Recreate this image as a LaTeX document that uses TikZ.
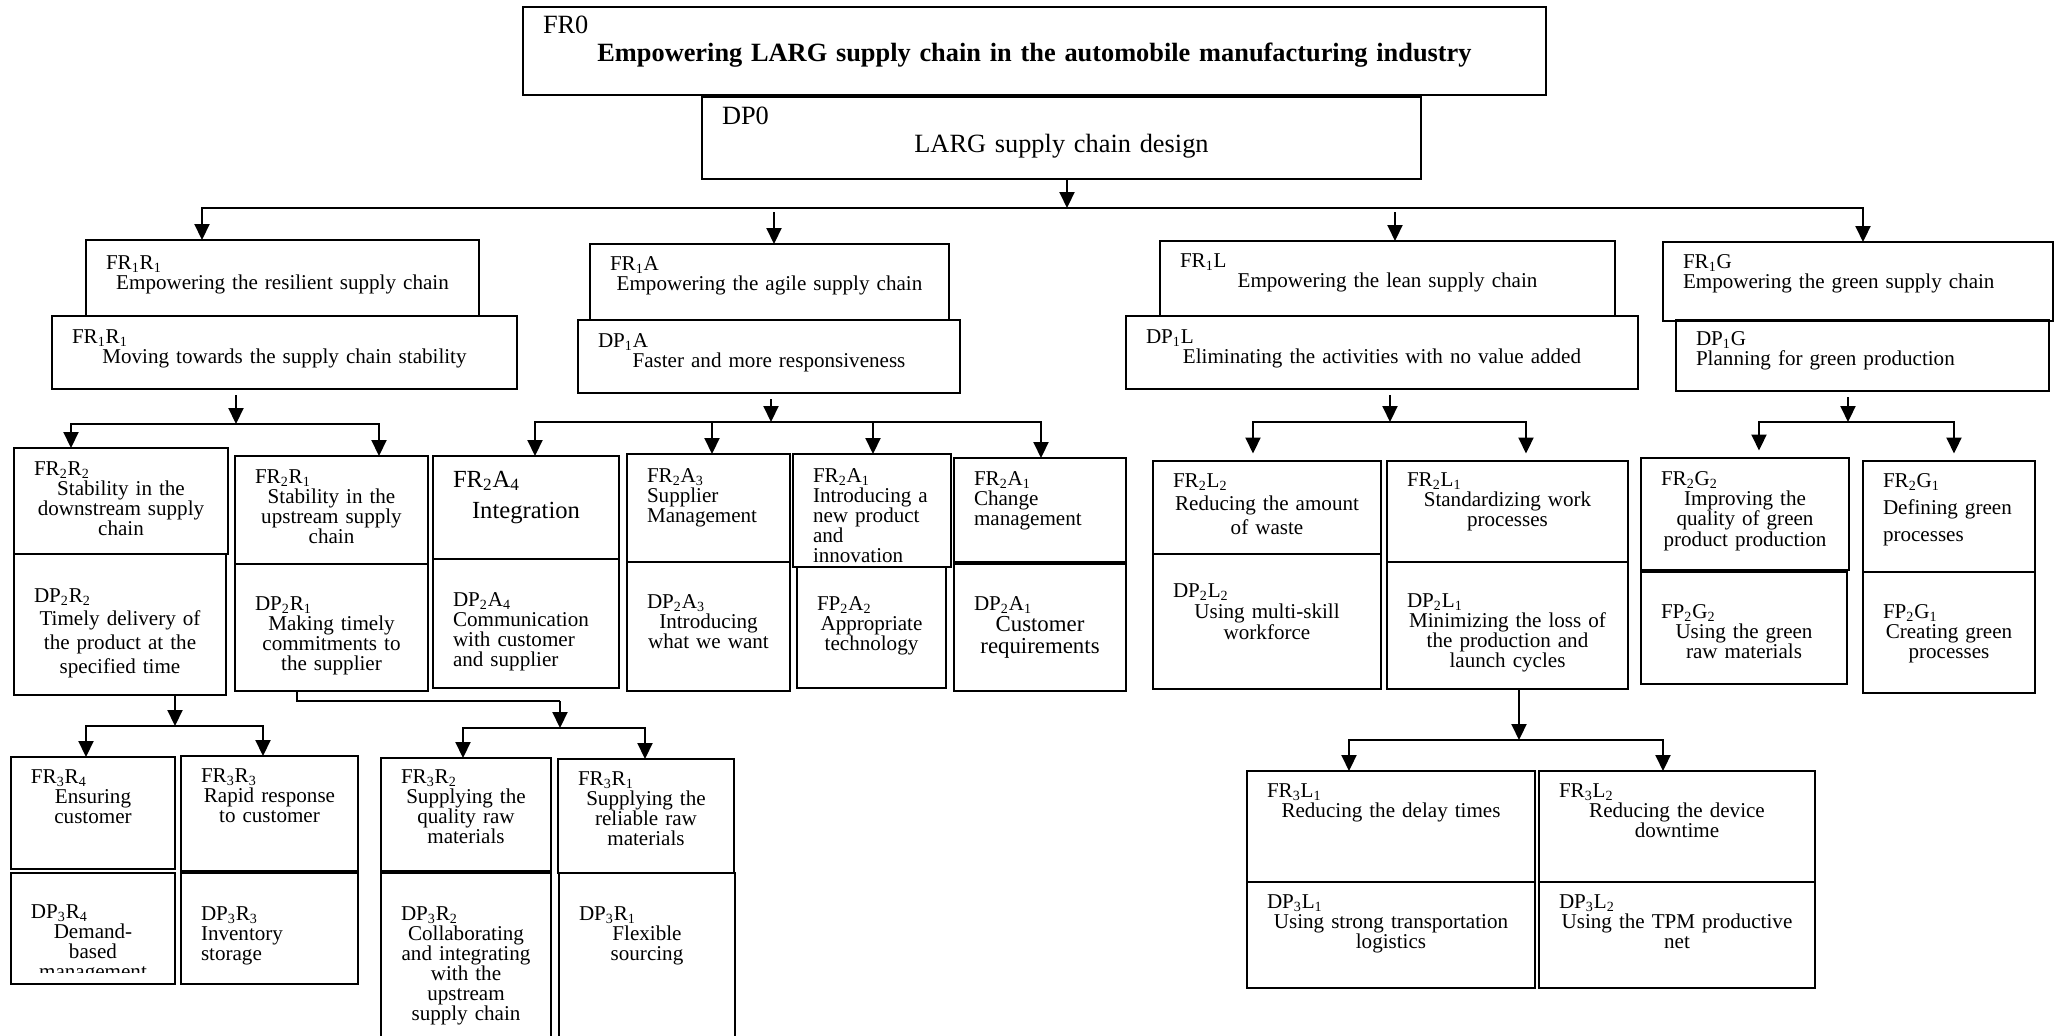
\documentclass[tikz,border=0pt]{standalone}
\usepackage{fontspec}
\setmainfont{Liberation Serif}
\usetikzlibrary{arrows.meta}
\setlength{\parindent}{0pt}
\newdimen\unitpx \unitpx=0.02cm
\newcommand{\ix}[1]{\textsubscript{#1}}

\begin{document}
\begin{tikzpicture}[x=0.02cm, y=-0.02cm, line width=1.2pt, >={Triangle[length=0.32cm,width=0.3cm]}]
    \tikzset{cell/.style n args={3}{draw, rectangle, line width=0.8pt, anchor=north west,
        outer sep=0pt, inner ysep=0pt, inner xsep=20*\unitpx,
        text width=(#1-40)*\unitpx, text height=#3*\unitpx, text depth=(#2-#3)*\unitpx,
        font=\fontsize{12}{11.4}\selectfont}}
    \tikzstyle{gap}=[shorten <=0.12cm]
    \tikzstyle{short}=[shorten >=0.15cm]

    \useasboundingbox (0,0) rectangle (2056,1035);
    \clip (0,0) rectangle (2056,1035);

    % level 0
    \node[cell={1023}{88}{26}, font=\fontsize{15}{16}\selectfont] (fr0) at (523,7)
        {FR0\par{\centering\bfseries Empowering LARG supply chain in the automobile manufacturing industry\par}};
    \node[cell={719}{82}{27}, font=\fontsize{15}{16}\selectfont] (dp0) at (702,97)
        {DP0\par{\centering LARG supply chain design\par}};

    % level 1
    \node[cell={393}{76}{29}] (fr1r) at (86,240) {FR\ix1R\ix1\par{\centering Empowering the resilient supply chain\par}};
    \node[cell={465}{73}{27}] (dp1r) at (52,316) {FR\ix1R\ix1\par{\centering Moving towards the supply chain stability\par}};
    \node[cell={359}{76}{26}] (fr1a) at (590,244) {FR\ix1A\par{\centering Empowering the agile supply chain\par}};
    \node[cell={382}{73}{27}] (dp1a) at (578,320) {DP\ix1A\par{\centering Faster and more responsiveness\par}};
    \node[cell={455}{75}{26}] (fr1l) at (1160,241) {FR\ix1L\par{\centering Empowering the lean supply chain\par}};
    \node[cell={512}{73}{27}] (dp1l) at (1126,316) {DP\ix1L\par{\centering Eliminating the activities with no value added\par}};
    \node[cell={390}{79}{26}] (fr1g) at (1663,242) {\raggedright FR\ix1G\\Empowering the green supply chain};
    \node[cell={373}{71}{25}] (dp1g) at (1676,320) {\raggedright DP\ix1G\\Planning for green production};

    % level 2
    \node[cell={214}{106}{27}] (fr2r2) at (14,448) {FR\ix2R\ix2\par{\centering Stability in the\\downstream supply\\chain\par}};
    \node[cell={212}{141}{48}, font=\fontsize{12}{13.6}\selectfont] (dp2r2) at (14,554)
        {DP\ix2R\ix2\par{\centering Timely delivery of\\the product at the\\specified time\par}};
    \node[cell={193}{108}{27}] (fr2r1) at (235,456) {FR\ix2R\ix1\par{\centering Stability in the\\upstream supply\\chain\par}};
    \node[cell={193}{127}{46}] (dp2r1) at (235,564) {DP\ix2R\ix1\par{\centering Making timely\\commitments to\\the supplier\par}};
    \node[cell={186}{103}{31}, font=\fontsize{14}{18.2}\selectfont] (fr2a4) at (433,456) {FR\ix2A\ix4\par{\centering Integration\par}};
    \node[cell={186}{129}{47}] (dp2a4) at (433,559) {\raggedright DP\ix2A\ix4\\Communication\\with customer\\and supplier};
    \node[cell={163}{108}{28}] (fr2a3) at (627,454) {\raggedright FR\ix2A\ix3\\Supplier\\Management};
    \node[cell={163}{129}{46}] (dp2a3) at (627,562) {DP\ix2A\ix3\par{\centering Introducing\\what we want\par}};
    \node[cell={158}{113}{28}] (fr2a1a) at (793,454) {\raggedright FR\ix2A\ix1\\Introducing a\\new product\\and\\innovation};
    \node[cell={149}{121}{43}] (fp2a2) at (797,567) {FP\ix2A\ix2\par{\centering Appropriate\\technology\par}};
    \node[cell={172}{104}{27}] (fr2a1b) at (954,458) {\raggedright FR\ix2A\ix1\\Change\\management};
    \node[cell={172}{127}{46}, font=\fontsize{12}{12.5}\selectfont] (dp2a1) at (954,564)
        {DP\ix2A\ix1\par{\centering\fontsize{13}{12.5}\selectfont Customer\\requirements\par}};
    \node[cell={228}{93}{26}, font=\fontsize{12}{13.4}\selectfont] (fr2l2) at (1153,461)
        {FR\ix2L\ix2\par{\centering Reducing the amount\\of waste\par}};
    \node[cell={228}{135}{43}, font=\fontsize{12}{12}\selectfont] (dp2l2) at (1153,554)
        {DP\ix2L\ix2\par{\centering Using multi-skill\\workforce\par}};
    \node[cell={241}{101}{25}] (fr2l1) at (1387,461) {FR\ix2L\ix1\par{\centering Standardizing work\\processes\par}};
    \node[cell={241}{127}{45}] (dp2l1) at (1387,562) {DP\ix2L\ix1\par{\centering Minimizing the loss of\\the production and\\launch cycles\par}};
    \node[cell={208}{112}{27}, font=\fontsize{12}{11.6}\selectfont] (fr2g2) at (1641,458)
        {FR\ix2G\ix2\par{\centering Improving the\\quality of green\\product production\par}};
    \node[cell={206}{112}{46}] (fp2g2) at (1641,572) {FP\ix2G\ix2\par{\centering Using the green\\raw materials\par}};
    \node[cell={172}{111}{26}, font=\fontsize{12}{15.6}\selectfont] (fr2g1) at (1863,461)
        {\raggedright FR\ix2G\ix1\\Defining green\\processes};
    \node[cell={172}{121}{46}] (fp2g1) at (1863,572) {FP\ix2G\ix1\par{\centering Creating green\\processes\par}};

    % level 3
    \node[cell={164}{112}{26}] (fr3r4) at (11,757) {FR\ix3R\ix4\par{\centering Ensuring\\customer\par}};
    \node[cell={164}{111}{45}] (dp3r4) at (11,873) {DP\ix3R\ix4\par{\centering Demand-\\based\\management\par}};
    \fill[white] ([shift={(2,-11)}]dp3r4.south west) rectangle ([shift={(-2,-1)}]dp3r4.south east);
    \node[cell={177}{115}{26}] (fr3r3) at (181,756) {FR\ix3R\ix3\par{\centering Rapid response\\to customer\par}};
    \node[cell={177}{111}{47}] (dp3r3) at (181,873) {\raggedright DP\ix3R\ix3\\Inventory\\storage};
    \node[cell={170}{113}{25}] (fr3r2) at (381,758) {FR\ix3R\ix2\par{\centering Supplying the\\quality raw\\materials\par}};
    \node[cell={170}{180}{47}] (dp3r2) at (381,873)
        {DP\ix3R\ix2\par{\centering Collaborating\\and integrating\\with the\\upstream\\supply chain\par}};
    \node[cell={176}{114}{26}] (fr3r1) at (558,759) {FR\ix3R\ix1\par{\centering Supplying the\\reliable raw\\materials\par}};
    \node[cell={176}{180}{47}] (dp3r1) at (559,873) {DP\ix3R\ix1\par{\centering Flexible\\sourcing\par}};
    \node[cell={288}{111}{26}] (fr3l1) at (1247,771) {FR\ix3L\ix1\par{\centering Reducing the delay times\par}};
    \node[cell={288}{106}{26}] (dp3l1) at (1247,882) {DP\ix3L\ix1\par{\centering Using strong transportation\\logistics\par}};
    \node[cell={276}{111}{26}] (fr3l2) at (1539,771) {FR\ix3L\ix2\par{\centering Reducing the device\\downtime\par}};
    \node[cell={276}{106}{26}] (dp3l2) at (1539,882) {DP\ix3L\ix2\par{\centering Using the TPM productive\\net\par}};

    % level 0 -> level 1
    \coordinate (b0) at (1067,208);
    \draw[->] (dp0.south -| b0) -- (b0);
    \draw[->] (b0) -| (fr1r.north -| 202,0);
    \draw[->] (b0) -| (fr1g.north -| 1863,0);
    \foreach \n/\x in {fr1a/774, fr1l/1395}
        \draw[->, shorten <=0.08cm] (b0 -| \x,0) -- (\n.north -| \x,0);

    % level 1 -> level 2
    \coordinate (br) at (236,424);
    \draw[->, gap] (dp1r.south -| br) -- (br);
    \draw[->] (br) -| (fr2r2.north -| 71,0);
    \draw[->] (br) -| (fr2r1.north -| 379,0);

    \coordinate (ba) at (771,422);
    \draw[->, gap] (dp1a.south -| ba) -- (ba);
    \draw[->] (ba) -| (fr2a4.north -| 535,0);
    \draw[->] (ba) -| (fr2a1b.north -| 1041,0);
    \foreach \n/\x in {fr2a3/712, fr2a1a/873}
        \draw[->] (ba -| \x,0) -- (\n.north -| \x,0);

    \coordinate (bl) at (1390,422);
    \draw[->, gap] (dp1l.south -| bl) -- (bl);
    \draw[->, short] (bl) -| (fr2l2.north -| 1253,0);
    \draw[->, short] (bl) -| (fr2l1.north -| 1526,0);

    \coordinate (bg) at (1848,422);
    \draw[->, gap] (dp1g.south -| bg) -- (bg);
    \draw[->, short] (bg) -| (fr2g2.north -| 1759,0);
    \draw[->, short] (bg) -| (fr2g1.north -| 1954,0);

    % level 2 -> level 3
    \coordinate (br4) at (175,726);
    \draw[->] (dp2r2.south -| br4) -- (br4);
    \draw[->] (br4) -| (fr3r4.north -| 86,0);
    \draw[->] (br4) -| (fr3r3.north -| 263,0);

    \coordinate (br1) at (560,701);
    \coordinate (br2) at (560,728);
    \draw (dp2r1.south -| 297,0) |- (br1);
    \draw[->] (br1) -- (br2);
    \draw[->] (br2) -| (fr3r2.north -| 463,0);
    \draw[->] (br2) -| (fr3r1.north -| 645,0);

    \coordinate (bl3) at (1519,740);
    \draw[->] (dp2l1.south -| bl3) -- (bl3);
    \draw[->] (bl3) -| (fr3l1.north -| 1349,0);
    \draw[->] (bl3) -| (fr3l2.north -| 1663,0);
\end{tikzpicture}
\end{document}
